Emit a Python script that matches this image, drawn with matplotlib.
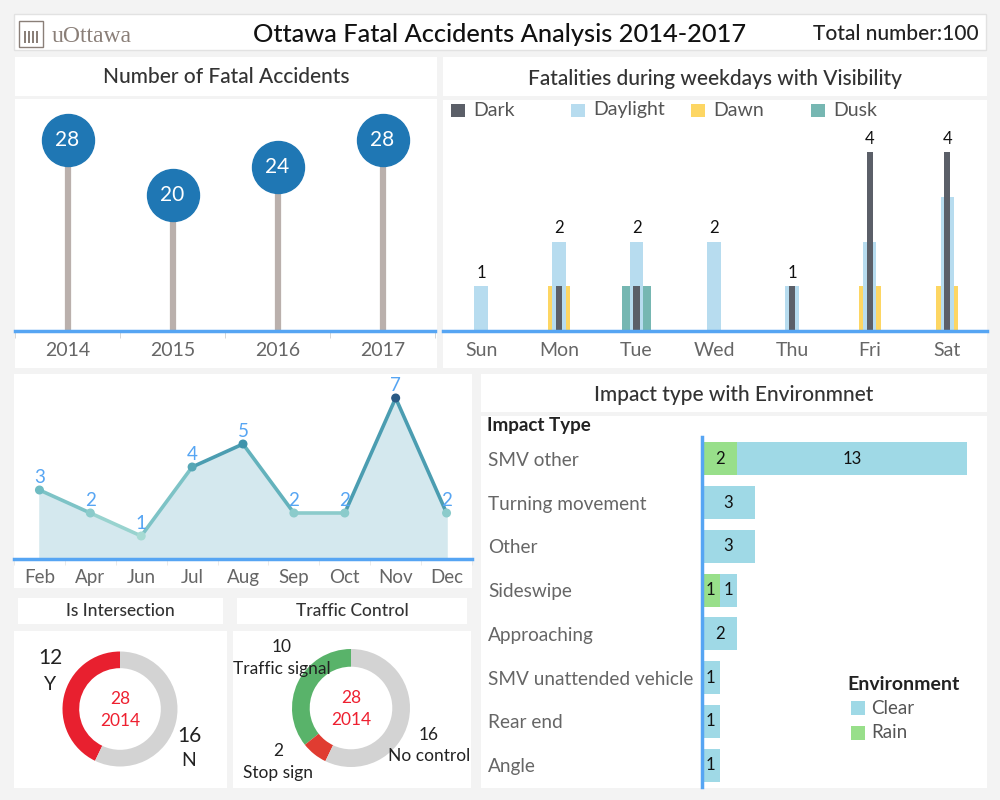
import matplotlib
matplotlib.use('Agg')
import matplotlib.pyplot as plt
from matplotlib.patches import Rectangle
from matplotlib.collections import LineCollection
from matplotlib.colors import LinearSegmentedColormap, Normalize
import numpy as np

# data
years = ['2014', '2015', '2016', '2017']
year_counts = [28, 20, 24, 28]

weekdays = ['Sun', 'Mon', 'Tue', 'Wed', 'Thu', 'Fri', 'Sat']
vis_dark = [0, 1, 1, 0, 1, 4, 4]
vis_daylight = [1, 2, 2, 2, 1, 2, 3]
vis_dawn = [0, 1, 0, 0, 0, 1, 1]
vis_dusk = [0, 0, 1, 0, 0, 0, 0]

months = ['Feb', 'Apr', 'Jun', 'Jul', 'Aug', 'Sep', 'Oct', 'Nov', 'Dec']
month_counts = [3, 2, 1, 4, 5, 2, 2, 7, 2]

impact_types = ['SMV other', 'Turning movement', 'Other', 'Sideswipe',
                'Approaching', 'SMV unattended vehicle', 'Rear end', 'Angle']
impact_rain = [2, 0, 0, 1, 0, 0, 0, 0]
impact_clear = [13, 3, 3, 1, 2, 1, 1, 1]

inter_labels = ['Y', 'N']
inter_counts = [12, 16]
control_labels = ['Traffic signal', 'Stop sign', 'No control']
control_counts = [10, 2, 16]

total_number = 100
sel_year = '2014'
sel_total = 28

plt.rcParams['font.family'] = ['Lato', 'DejaVu Sans']

W, H = 1000, 800
fig = plt.figure(figsize=(10, 8), dpi=100, facecolor='#f3f3f3')

def frect(x0, y0, x1, y1):
    # pixel box (top-left origin) -> figure fractions
    return [x0 / W, 1 - y1 / H, (x1 - x0) / W, (y1 - y0) / H]

def box(x0, y0, x1, y1, ec='none', fc='white'):
    r = frect(x0, y0, x1, y1)
    fig.add_artist(Rectangle((r[0], r[1]), r[2], r[3], transform=fig.transFigure,
                             facecolor=fc, edgecolor=ec, lw=1, zorder=0))

def ftext(x, y, s, **kw):
    fig.text(x / W, 1 - y / H, s, **kw)

GRAY_TXT = '#666666'
AXIS_BLUE = '#56a5f3'

# header
box(14, 14, 986, 50, ec='#e2e2e2')
ftext(500, 34, 'Ottawa Fatal Accidents Analysis 2014-2017', ha='center', va='center',
      fontsize=18.3, color='#111111', fontweight='medium')
ftext(979, 34, 'Total number:%d' % total_number, ha='right', va='center',
      fontsize=15, color='#222222', fontweight='medium')
ftext(52, 37, 'uOttawa', ha='left', va='center', fontsize=17, color='#8a7f78',
      family=['Liberation Serif', 'DejaVu Serif'])
# small building logo
box(19, 21, 43, 47, ec='#8a7f78', fc='none')
for cx in np.arange(24, 40, 4):
    box(cx, 31, cx + 2, 43, fc='#8a7f78')

# panel boxes
box(15, 57, 437, 96)
box(15, 99, 437, 368)
box(443, 57, 987, 96)
box(443, 100, 987, 368)
box(14, 374, 472, 588)
box(481, 374, 987, 412)
box(481, 416, 987, 788)
box(18, 598, 223, 624)
box(14, 631, 227, 788)
box(237, 598, 467, 624)
box(233, 631, 471, 788)

title_kw = dict(ha='center', va='center', fontsize=15, color='#333333', fontweight='medium')
ftext(226, 77, 'Number of Fatal Accidents', **title_kw)
ftext(715, 79, 'Fatalities during weekdays with Visibility', **title_kw)
ftext(734, 395, 'Impact type with Environmnet', **title_kw)
ftext(120, 611, 'Is Intersection', ha='center', va='center', fontsize=12.5,
      color='#333333', fontweight='medium')
ftext(352, 611, 'Traffic Control', ha='center', va='center', fontsize=12.5,
      color='#333333', fontweight='medium')

def clean(ax):
    ax.set_facecolor('none')
    for s in ax.spines.values():
        s.set_visible(False)

def blue_base(ax, side='bottom'):
    ax.spines[side].set_visible(True)
    ax.spines[side].set_color(AXIS_BLUE)
    ax.spines[side].set_linewidth(2.5)

# ---- lollipop: fatal accidents per year
ax = fig.add_axes(frect(15, 99, 435, 331))
clean(ax)
xs = np.arange(len(years))
ax.vlines(xs, 0, year_counts, color='#bab0ac', lw=4.5, zorder=1)
ax.scatter(xs, year_counts, s=1400, color='#1f77b4', zorder=2, clip_on=False)
for x, v in zip(xs, year_counts):
    ax.text(x, v, str(v), ha='center', va='center', color='white', fontsize=15, zorder=3)
ax.set_xlim(-0.5, len(years) - 0.5)
ax.set_ylim(0, 34)
blue_base(ax)
ax.set_yticks([])
ax.set_xticks(xs)
ax.set_xticklabels(years, fontsize=14, color=GRAY_TXT)
ax.set_xticks(np.arange(-0.5, len(years)), minor=True)
ax.tick_params(axis='x', which='major', length=0, pad=8)
ax.tick_params(axis='x', which='minor', length=5, color='#cfcfcf')

# ---- weekday visibility bars (overlaid)
ax = fig.add_axes(frect(443, 118, 987, 331))
clean(ax)
xs = np.arange(len(weekdays))
series = [('Dusk', vis_dusk, '#76b7b2', 0.38),
          ('Dawn', vis_dawn, '#fdd663', 0.28),
          ('Daylight', vis_daylight, '#b7dcef', 0.176),
          ('Dark', vis_dark, '#5b5f68', 0.078)]
for name, vals, col, w in series:
    ax.bar(xs, vals, width=w, color=col, zorder=2)
tops = np.max([vis_dark, vis_daylight, vis_dawn, vis_dusk], axis=0)
for x, t in zip(xs, tops):
    ax.text(x, t + 0.12, str(t), ha='center', va='bottom', fontsize=12, color='#111111')
ax.set_xlim(-0.49, 6.51)
ax.set_ylim(0, 213 / 44.7)
blue_base(ax)
ax.set_yticks([])
ax.set_xticks(xs)
ax.set_xticklabels(weekdays, fontsize=14, color=GRAY_TXT)
ax.tick_params(axis='x', length=0, pad=8)
# legend
leg_order = [('Dark', '#5b5f68'), ('Daylight', '#b7dcef'), ('Dawn', '#fdd663'), ('Dusk', '#76b7b2')]
for i, (name, col) in enumerate(leg_order):
    lx = 451 + i * 120
    box(lx, 104, lx + 14, 117, fc=col)
    ftext(lx + 22, 110, name, ha='left', va='center', fontsize=14, color='#555555')

# ---- monthly line/area
ax = fig.add_axes(frect(14, 374, 472, 559))
clean(ax)
xs = np.arange(len(months))
ax.fill_between(xs, month_counts, 0, color='#d4e8ee', zorder=1)
cmap = LinearSegmentedColormap.from_list('bt', ['#a6dad3', '#6fbcc2', '#3f93ab', '#2a5a85'])
norm = Normalize(1, 7)
pts = np.column_stack([xs, month_counts])
segs = np.stack([pts[:-1], pts[1:]], axis=1)
seg_vals = (np.array(month_counts[:-1]) + np.array(month_counts[1:])) / 2
lc = LineCollection(segs, colors=cmap(norm(seg_vals)), linewidths=2.6, zorder=2,
                    capstyle='round')
ax.add_collection(lc)
ax.scatter(xs, month_counts, s=30, c=cmap(norm(np.array(month_counts))), zorder=3)
for x, v in zip(xs, month_counts):
    ax.annotate(str(v), (x, v), xytext=(0, 3), textcoords='offset points', ha='center',
                va='bottom', fontsize=13.5, color='#56a5f3')
ax.set_xlim(-0.5, len(months) - 0.5)
ax.set_ylim(0, 185 / 23.0)
blue_base(ax)
ax.set_yticks([])
ax.set_xticks(xs)
ax.set_xticklabels(months, fontsize=13.5, color=GRAY_TXT)
ax.set_xticks(np.arange(-0.5, len(months)), minor=True)
ax.tick_params(axis='x', which='major', length=0, pad=7)
ax.tick_params(axis='x', which='minor', length=4, color='#e6e6e6')

# ---- impact type bars
ax = fig.add_axes(frect(702, 437, 985, 787))
clean(ax)
ys = np.arange(len(impact_types))
ax.barh(ys, impact_rain, height=0.75, color='#98df8a', zorder=2)
ax.barh(ys, impact_clear, left=impact_rain, height=0.75, color='#9fd9e6', zorder=2)
for y, rv, cv in zip(ys, impact_rain, impact_clear):
    if rv:
        ax.text(rv / 2, y, str(rv), ha='center', va='center', fontsize=12, color='#111111')
    if cv:
        ax.text(rv + cv / 2, y, str(cv), ha='center', va='center', fontsize=12, color='#111111')
ax.set_xlim(0, 16)
ax.set_ylim(len(impact_types) - 0.5, -0.5)
blue_base(ax, 'left')
ax.set_xticks([])
ax.set_yticks(ys)
ax.set_yticklabels(impact_types, fontsize=13.7, color=GRAY_TXT, ha='left')
ax.tick_params(axis='y', length=0, pad=154)
ftext(487, 426, 'Impact Type', ha='left', va='center', fontsize=13.5, color='#222222',
      fontweight='bold')
ftext(847, 685, 'Environment', ha='left', va='center', fontsize=14, color='#222222',
      fontweight='bold')
for i, (name, col) in enumerate([('Clear', '#9fd9e6'), ('Rain', '#98df8a')]):
    ly = 708 + i * 25
    box(851, ly - 7, 865, ly + 7, fc=col)
    ftext(871, ly, name, ha='left', va='center', fontsize=13.5, color='#555555')

# ---- donuts
ax = fig.add_axes(frect(120 - 57.5, 709 - 57.5, 120 + 57.5, 709 + 57.5))
ax.pie(inter_counts, colors=['#e8202f', '#d3d3d3'], startangle=90, counterclock=True,
       radius=1, wedgeprops=dict(width=0.29, edgecolor='none'))
ax.set_xlim(-1, 1)
ax.set_ylim(-1, 1)
ax.set_aspect('equal')
ax.text(0, 0.17, str(sel_total), ha='center', va='center', fontsize=12.5, color='#ee2030')
ax.text(0, -0.2, sel_year, ha='center', va='center', fontsize=12.5, color='#ee2030')
ftext(50, 658, str(inter_counts[0]), ha='center', va='center', fontsize=15, color='#222222')
ftext(50, 685, inter_labels[0], ha='center', va='center', fontsize=14, color='#222222')
ftext(189, 736, str(inter_counts[1]), ha='center', va='center', fontsize=15, color='#222222')
ftext(189, 761, inter_labels[1], ha='center', va='center', fontsize=14, color='#222222')

ax = fig.add_axes(frect(351 - 59, 708 - 59, 351 + 59, 708 + 59))
ax.pie(control_counts, colors=['#59b36a', '#e03c31', '#d3d3d3'], startangle=90,
       counterclock=True, radius=1, wedgeprops=dict(width=0.3, edgecolor='none'))
ax.set_xlim(-1, 1)
ax.set_ylim(-1, 1)
ax.set_aspect('equal')
ax.text(0, 0.17, str(sel_total), ha='center', va='center', fontsize=12.5, color='#ee2030')
ax.text(0, -0.2, sel_year, ha='center', va='center', fontsize=12.5, color='#ee2030')
lab_pos = [(282, 647, 669), (278, 751, 773), (429, 735, 756)]
for (lx, y1, y2), name, v in zip(lab_pos, control_labels, control_counts):
    ftext(lx, y1, str(v), ha='center', va='center', fontsize=12.5, color='#222222')
    ftext(lx, y2, name, ha='center', va='center', fontsize=12.5, color='#222222')

fig.savefig('out.png', dpi=100, facecolor=fig.get_facecolor())
